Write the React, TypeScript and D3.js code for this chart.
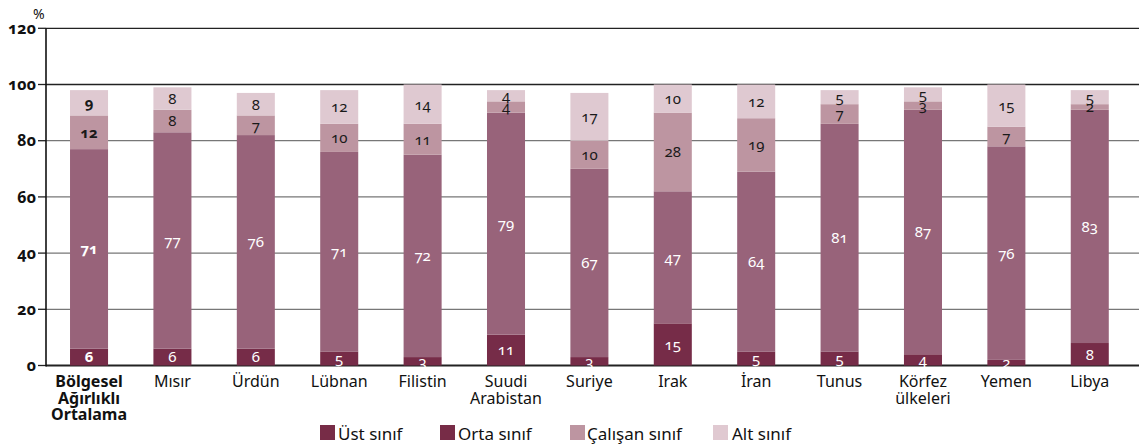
import React from 'react';
import * as d3 from 'd3';

const categories = [
  'Bölgesel Ağırlıklı Ortalama', 'Mısır', 'Ürdün', 'Lübnan', 'Filistin', 'Suudi Arabistan',
  'Suriye', 'Irak', 'İran', 'Tunus', 'Körfez ülkeleri', 'Yemen', 'Libya',
];
const categoryLines = [
  ['Bölgesel', 'Ağırlıklı', 'Ortalama'], ['Mısır'], ['Ürdün'], ['Lübnan'], ['Filistin'],
  ['Suudi', 'Arabistan'], ['Suriye'], ['Irak'], ['İran'], ['Tunus'], ['Körfez', 'ülkeleri'],
  ['Yemen'], ['Libya'],
];
const ust = [6, 6, 6, 5, 3, 11, 3, 15, 5, 5, 4, 2, 8];
const orta = [71, 77, 76, 71, 72, 79, 67, 47, 64, 81, 87, 76, 83];
const calisan = [12, 8, 7, 10, 11, 4, 10, 28, 19, 7, 3, 7, 2];
const alt = [9, 8, 8, 12, 14, 4, 17, 10, 12, 5, 5, 15, 5];
const seriesNames = ['Üst sınıf', 'Orta sınıf', 'Çalışan sınıf', 'Alt sınıf'];
const yTicks = [0, 20, 40, 60, 80, 100, 120];

const barColors = ['#762c48', '#98637a', '#bd95a1', '#dfc9d1'];
const legendColors = ['#772c47', '#772c47', '#bd95a1', '#e0c9d1'];
const labelColors = ['#ffffff', '#ffffff', '#1a1a1a', '#1a1a1a'];

const width = 1139;
const height = 445;
const font = '"Noto Sans", sans-serif';

const App = () => {
  const axisX = 46;
  const x = d3
    .scaleBand()
    .domain(categories)
    .range([axisX, 1132.8])
    .paddingInner(0.544)
    .paddingOuter(0.288);
  const y = d3.scaleLinear().domain([0, 120]).range([365.5, 28.3]);

  const rows = categories.map((c, i) => ({
    cat: c,
    s0: ust[i],
    s1: orta[i],
    s2: calisan[i],
    s3: alt[i],
  }));
  const stacked = d3.stack<any>().keys(['s0', 's1', 's2', 's3'])(rows);

  const legendItems = [
    { sx: 320, tx: 338 },
    { sx: 440, tx: 458 },
    { sx: 570, tx: 587 },
    { sx: 713, tx: 732 },
  ];

  const cx = (i: number) => (x(categories[i]) as number) + x.bandwidth() / 2;

  return (
    <svg
      width={width}
      height={height}
      style={{ position: 'absolute', left: 0, top: 0, fontFamily: font }}
    >
      <rect width={width} height={height} fill='#ffffff' />
      {yTicks.map(t => (
        <g key={`grid-${t}`}>
          <line
            x1={axisX}
            x2={width}
            y1={y(t)}
            y2={y(t)}
            stroke={t >= 100 || t === 0 ? '#222' : '#777'}
            strokeWidth={t === 0 ? 2 : 1.3}
          />
          <line x1={38} x2={axisX} y1={y(t)} y2={y(t)} stroke='#222' strokeWidth={1.3} />
          <text
            x={36}
            y={y(t)}
            dy='0.35em'
            textAnchor='end'
            fontSize={16}
            fontWeight='bold'
            fill='#111'
            style={{ fontVariantNumeric: 'oldstyle-nums' }}
          >
            {t}
          </text>
        </g>
      ))}
      <text x={33} y={19} fontSize={14} fill='#111'>
        %
      </text>

      {stacked.map((layer, k) => (
        <g key={`layer-${k}`}>
          {layer.map((d, i) => (
            <rect
              key={`bar-${k}-${i}`}
              x={x(categories[i])}
              width={x.bandwidth()}
              y={y(d[1])}
              height={y(d[0]) - y(d[1])}
              fill={barColors[k]}
            />
          ))}
        </g>
      ))}

      <line x1={axisX} x2={axisX} y1={y(120)} y2={y(0) + 1} stroke='#111' strokeWidth={1.6} />

      {stacked.map((layer, k) => (
        <g key={`labels-${k}`}>
          {layer.map((d, i) => (
            <text
              key={`lab-${k}-${i}`}
              x={cx(i)}
              y={y((d[0] + d[1]) / 2)}
              dy='0.36em'
              textAnchor='middle'
              fontSize={15}
              fontWeight={i === 0 ? 'bold' : 'normal'}
              fill={labelColors[k]}
              style={{ fontVariantNumeric: 'oldstyle-nums' }}
            >
              {d[1] - d[0]}
            </text>
          ))}
        </g>
      ))}

      {categoryLines.map((lines, i) => (
        <text
          key={`cat-${i}`}
          x={cx(i)}
          y={387}
          textAnchor='middle'
          fontSize={16}
          fontWeight={i === 0 ? 'bold' : 'normal'}
          fill='#111'
        >
          {lines.map((l, j) => (
            <tspan key={j} x={cx(i)} dy={j === 0 ? 0 : 16.5}>
              {l}
            </tspan>
          ))}
        </text>
      ))}

      {seriesNames.map((name, k) => (
        <g key={`legend-${k}`}>
          <rect x={legendItems[k].sx} y={425} width={15} height={15} fill={legendColors[k]} />
          <text x={legendItems[k].tx} y={440} fontSize={17} fill='#111'>
            {name}
          </text>
        </g>
      ))}
    </svg>
  );
};

export default App;
